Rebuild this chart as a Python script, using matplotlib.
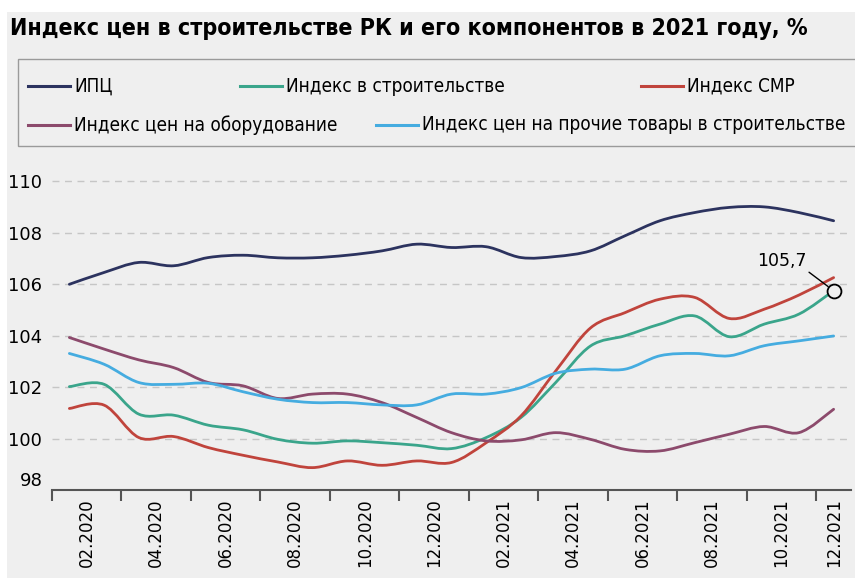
import numpy as np
import matplotlib.pyplot as plt
from matplotlib.path import Path
from matplotlib.patches import PathPatch, Rectangle
from matplotlib.lines import Line2D
import matplotlib.transforms as mtransforms

# monthly values, 02.2020 .. 12.2021
months = ["02.2020", "03.2020", "04.2020", "05.2020", "06.2020", "07.2020",
          "08.2020", "09.2020", "10.2020", "11.2020", "12.2020", "01.2021",
          "02.2021", "03.2021", "04.2021", "05.2021", "06.2021", "07.2021",
          "08.2021", "09.2021", "10.2021", "11.2021", "12.2021"]

cpi = [106.0, 106.46, 106.85, 106.72, 107.04, 107.13, 107.03, 107.03,
       107.13, 107.30, 107.56, 107.43, 107.46, 107.04, 107.08, 107.30,
       107.89, 108.47, 108.79, 108.99, 109.01, 108.79, 108.47]
construction = [102.02, 102.11, 100.95, 100.91, 100.52, 100.34, 99.97, 99.82,
                99.91, 99.84, 99.74, 99.61, 100.04, 100.82, 102.18, 103.6,
                104.0, 104.45, 104.77, 103.96, 104.45, 104.84, 105.75]
smr = [101.17, 101.30, 100.04, 100.08, 99.65, 99.35, 99.09, 98.87,
       99.13, 98.96, 99.13, 99.07, 99.84, 100.88, 102.63, 104.3,
       104.90, 105.42, 105.49, 104.67, 105.03, 105.58, 106.26]
equipment = [103.93, 103.48, 103.06, 102.76, 102.18, 102.05, 101.56, 101.73,
             101.73, 101.40, 100.82, 100.23, 99.91, 99.95, 100.23, 99.97,
             99.58, 99.52, 99.84, 100.17, 100.47, 100.23, 101.14]
other_goods = [103.31, 102.89, 102.18, 102.11, 102.15, 101.82, 101.53, 101.40,
               101.40, 101.31, 101.31, 101.73, 101.73, 101.98, 102.54, 102.70,
               102.70, 103.22, 103.31, 103.22, 103.61, 103.80, 103.99]

labels = ["ИПЦ", "Индекс в строительстве", "Индекс СМР",
          "Индекс цен на оборудование",
          "Индекс цен на прочие товары в строительстве"]
colors = ["#2c335f", "#3aa58b", "#c0443c", "#8c4a6c", "#45ace0"]
series = [cpi, construction, smr, equipment, other_goods]

BG = "#efefef"
COND = dict(family="DejaVu Sans", fontstretch="condensed")


def smooth_path(xs, ys):
    # Excel-style smoothed line as cubic bezier through the monthly points
    pts = np.column_stack([xs, ys]).astype(float)
    n = len(pts)
    verts = [pts[0]]
    codes = [Path.MOVETO]
    for i in range(n - 1):
        p0 = pts[max(i - 1, 0)]
        p1 = pts[i]
        p2 = pts[i + 1]
        p3 = pts[min(i + 2, n - 1)]
        verts += [p1 + (p2 - p0) / 6, p2 - (p3 - p1) / 6, p2]
        codes += [Path.CURVE4] * 3
    return Path(verts, codes)


fig = plt.figure(figsize=(8.55, 5.78), dpi=100, facecolor="white")
fig.patches.append(Rectangle((7 / 855, 0), 1, 1 - 12 / 578, transform=fig.transFigure,
                             facecolor=BG, edgecolor="none", zorder=-10))

fig.text(10 / 855, 1 - 29 / 578, "Индекс цен в строительстве РК и его компонентов в 2021 году, %",
         fontsize=16.7, fontweight="bold", va="center", ha="left", **COND)

# legend box
fig.patches.append(Rectangle((18 / 855, 1 - 146 / 578), 1, 87 / 578, transform=fig.transFigure,
                             facecolor=BG, edgecolor="#9a9a9a", lw=1, zorder=-5))
legend_pos = [(28, 86), (240, 86), (641, 86), (28, 125), (376, 125)]
for (lx, ly), lab, c in zip(legend_pos, labels, colors):
    fy = 1 - ly / 578
    fig.add_artist(Line2D([lx / 855, (lx + 42) / 855], [fy, fy], color=c, lw=2.2,
                          transform=fig.transFigure))
    fig.text((lx + 46) / 855, fy, lab, fontsize=13.6, va="center", ha="left", **COND)

ax = fig.add_axes([52 / 855, 1 - 490 / 578, 799 / 855, 324 / 578])
ax.set_facecolor(BG)
x = np.arange(len(months))
for ys, c in zip(series, colors):
    ax.add_patch(PathPatch(smooth_path(x, ys), fill=False, edgecolor=c, lw=2.0,
                           capstyle="round", joinstyle="round", zorder=3))

ax.set_xlim(-0.5, len(months) - 0.5)
ax.set_ylim(98, 110.6)

for v in range(100, 111, 2):
    ax.axhline(v, color="#c6c6c6", lw=1, dashes=(5, 4), zorder=1)

for s in ["top", "right", "left"]:
    ax.spines[s].set_visible(False)
ax.spines["bottom"].set_color("#555555")
ax.spines["bottom"].set_linewidth(1.5)

ax.set_yticks(range(98, 111, 2))
ax.set_yticklabels([str(v) for v in range(98, 111, 2)])
ax.tick_params(axis="y", length=0, pad=7, labelsize=13)
off = mtransforms.ScaledTranslation(0, 11 / 100, fig.dpi_scale_trans)
ytl = ax.get_yticklabels()
ytl[0].set_transform(ytl[0].get_transform() + off)

ax.set_xticks(np.arange(-0.5, len(months) - 1, 2))
ax.set_xticklabels([])
ax.tick_params(axis="x", which="major", length=8, width=1.5, color="#555555", direction="out")
minor_pos = [min(i + 0.5, len(months) - 1) for i in range(0, len(months), 2)]
ax.set_xticks(minor_pos, minor=True)
ax.set_xticklabels(months[0::2], minor=True, rotation=90, fontsize=12)
ax.tick_params(axis="x", which="minor", length=0, pad=6)

last = len(months) - 1
ax.plot(last, construction[-1], "o", mfc=BG, mec="black", ms=10, mew=1.3, zorder=5)
ax.annotate("105,7", xy=(last, construction[-1]), xytext=(20.5, 106.9),
            fontsize=12.5, ha="center", va="center",
            arrowprops=dict(arrowstyle="-", color="black", lw=1,
                            shrinkA=0, shrinkB=5, relpos=(1, 0)))

fig.savefig("out.png", dpi=100, facecolor=fig.get_facecolor())
